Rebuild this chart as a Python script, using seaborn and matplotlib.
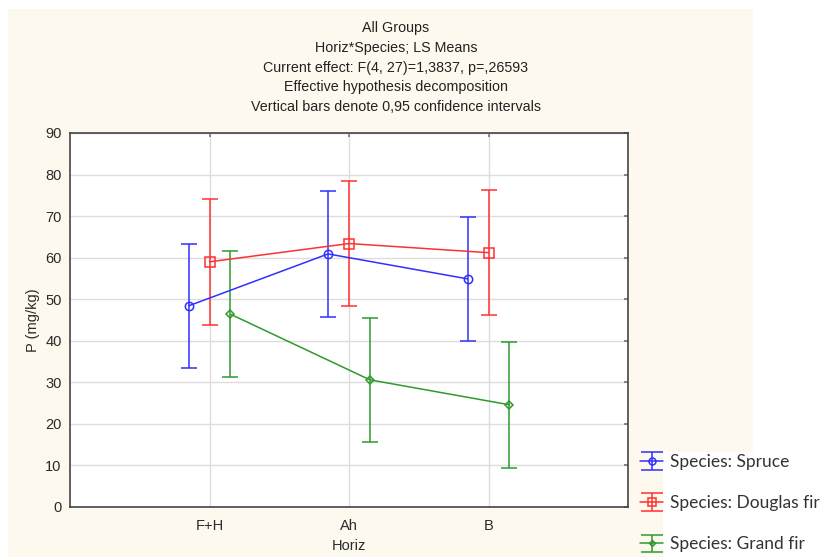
import matplotlib
matplotlib.use("Agg")
import matplotlib.pyplot as plt
from matplotlib.patches import Rectangle
from matplotlib.lines import Line2D
import seaborn as sns
import pandas as pd

# LS means of P per horizon and species, with 0.95 CI half-widths
horizons = ["F+H", "Ah", "B"]
species = ["Spruce", "Douglas fir", "Grand fir"]
spruce_mean = [48.4, 60.9, 54.9]
spruce_ci = [15.0, 15.1, 15.0]
douglas_mean = [59.0, 63.4, 61.2]
douglas_ci = [15.1, 15.0, 15.1]
grand_mean = [46.4, 30.6, 24.6]
grand_ci = [15.1, 15.0, 15.1]

title_lines = [
    "All Groups",
    "Horiz*Species; LS Means",
    "Current effect: F(4, 27)=1,3837, p=,26593",
    "Effective hypothesis decomposition",
    "Vertical bars denote 0,95 confidence intervals",
]

sns.set_theme(style="white")
plt.rcParams["font.family"] = ["Liberation Sans", "DejaVu Sans"]

rows = []
for sp, means, cis in [("Spruce", spruce_mean, spruce_ci),
                       ("Douglas fir", douglas_mean, douglas_ci),
                       ("Grand fir", grand_mean, grand_ci)]:
    for i, h in enumerate(horizons):
        rows.append({"Horiz": h, "pos": i + 1, "Species": sp, "P": means[i], "ci": cis[i]})
df = pd.DataFrame(rows)

styles = {
    "Spruce": dict(color="#3030ff", marker="o", ms=6, dx=-0.15),
    "Douglas fir": dict(color="#ff3030", marker="s", ms=7, dx=0.0),
    "Grand fir": dict(color="#2e9a2e", marker="D", ms=4, dx=0.15),
}

W, H = 831, 558
fig = plt.figure(figsize=(W / 100, H / 100), dpi=100, facecolor="white")

# cream panel behind the chart, white block behind the legend
fig.patches.append(Rectangle((8 / W, 1 / H), 745 / W, 548 / H, transform=fig.transFigure,
                             facecolor="#fef9ee", edgecolor="none", zorder=-2))
fig.patches.append(Rectangle((663 / W, 0), (W - 663) / W, (H - 452) / H,
                             transform=fig.transFigure, facecolor="white",
                             edgecolor="none", zorder=-1))

ax = fig.add_axes([70 / W, (H - 507) / H, (628 - 70) / W, (507 - 133) / H])
ax.set_facecolor("white")

handles = []
for sp in species:
    st = styles[sp]
    d = df[df["Species"] == sp].copy()
    d["x"] = d["pos"] + st["dx"]
    sns.lineplot(data=d, x="x", y="P", ax=ax, color=st["color"], lw=1.1,
                 marker=st["marker"], markersize=st["ms"], markerfacecolor="none",
                 markeredgecolor=st["color"], markeredgewidth=1.1, legend=False,
                 errorbar=None, sort=False, zorder=3)
    eb = ax.errorbar(d["x"], d["P"], yerr=d["ci"], fmt=st["marker"], color=st["color"],
                     mfc="none", ms=st["ms"] - 1, mew=1.1, ls="-", lw=1.1,
                     elinewidth=1.1, capsize=6, capthick=1.1, zorder=2)
    handles.append(eb)

ax.set_xlim(0, 4)
ax.set_ylim(0, 90)
ax.set_xticks([1, 2, 3])
ax.set_xticklabels(horizons)
ax.set_yticks(range(0, 91, 10))
ax.grid(True, color="#dddddd", lw=1)
ax.set_axisbelow(True)
for s in ax.spines.values():
    s.set_color("#444444")
    s.set_linewidth(1.2)
ax.tick_params(direction="in", top=True, right=True, length=3, color="#777777",
               labelsize=10.5, labelcolor="#2a2a2a")
ax.tick_params(axis="x", pad=9)
ax.tick_params(axis="y", pad=6)
ax.set_xlabel("Horiz", fontsize=10.5, color="#2a2a2a", labelpad=4)
ax.set_ylabel("P (mg/kg)", fontsize=10.5, color="#2a2a2a", labelpad=4)

for i, line in enumerate(title_lines):
    fig.text(396 / W, 1 - (28 + i * 19.8) / H, line, ha="center", va="center",
             fontsize=10.3, color="#222222")

leg = fig.legend(handles, ["Species: " + s for s in species], loc="upper left",
                 bbox_to_anchor=(633 / W, 1 - 447 / H), frameon=False,
                 prop={"family": "Lato", "size": 12.5}, labelspacing=1.45,
                 handlelength=1.35, handletextpad=0.4, borderaxespad=0)
for t in leg.get_texts():
    t.set_color("#333333")
# wide caps on the legend keys
for art in leg.findobj(Line2D):
    if art.get_marker() == "_":
        art.set_markersize(16)

# the connecting lines come from seaborn; hide the duplicate errorbar lines
for eb in handles:
    eb.lines[0].set_linestyle("none")
    eb.lines[0].set_marker("none")

fig.savefig("out.png", dpi=100, facecolor="white")
